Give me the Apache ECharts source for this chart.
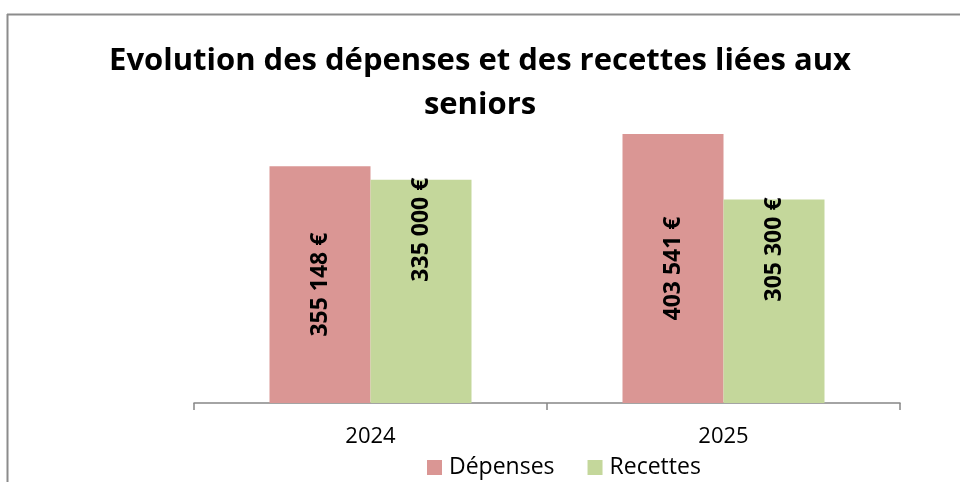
<!DOCTYPE html>
<html>
<head>
<meta charset="utf-8">
<script src="https://cdn.jsdelivr.net/npm/echarts@6/dist/echarts.min.js"></script>
<style>
html,body{margin:0;padding:0;background:#fff;}
#chart{width:960px;height:482px;}
</style>
</head>
<body>
<div id="chart"></div>
<script>
const categories = ['2024', '2025'];
const depenses = [355148, 403541];
const recettes = [335000, 305300];
const seriesNames = ['Dépenses', 'Recettes'];
const titleText = 'Evolution des dépenses et des recettes liées aux\nseniors';

function fmt(v) {
  return String(v).replace(/\B(?=(\d{3})+(?!\d))/g, ' ') + ' €';
}

const chart = echarts.init(document.getElementById('chart'), null, {renderer: 'canvas'});
const FONT = 'Open Sans';
chart.setOption({
  animation: false,
  backgroundColor: '#fff',
  title: {
    text: titleText,
    left: 'center',
    top: 39,
    padding: 0,
    textStyle: {fontFamily: FONT, fontWeight: 'bold', fontSize: 31, lineHeight: 44, color: '#000', align: 'center'}
  },
  graphic: [
    {type: 'line', shape: {x1: 7, y1: 14.5, x2: 960, y2: 14.5}, style: {stroke: '#8c8c8c', lineWidth: 2}},
    {type: 'line', shape: {x1: 7.5, y1: 14, x2: 7.5, y2: 482}, style: {stroke: '#8c8c8c', lineWidth: 2}}
  ],
  legend: {
    left: 427,
    top: 456,
    padding: 0,
    icon: 'rect',
    itemWidth: 15,
    itemHeight: 15,
    itemGap: 33,
    textStyle: {fontFamily: FONT, fontSize: 23, color: '#000', padding: [0, 0, 0, 2]},
    data: seriesNames
  },
  grid: {left: 194, right: 60, top: 103, bottom: 79, containLabel: false},
  xAxis: {
    type: 'category',
    data: categories,
    axisLine: {lineStyle: {color: '#868686', width: 1.5}},
    axisTick: {show: true, length: 7, lineStyle: {color: '#868686', width: 1.5}},
    axisLabel: {fontFamily: FONT, fontSize: 22, color: '#000', margin: 23}
  },
  yAxis: {
    type: 'value',
    min: 0,
    max: 450000,
    show: false,
    splitLine: {show: false}
  },
  series: [
    {
      name: seriesNames[0],
      type: 'bar',
      data: depenses,
      barWidth: 101,
      barGap: '0%',
      itemStyle: {color: '#DA9694'},
      label: {
        show: true,
        position: 'inside',
        rotate: 90,
        align: 'center',
        verticalAlign: 'middle',
        fontFamily: FONT,
        fontWeight: 'bold',
        fontSize: 23,
        color: '#000',
        formatter: p => fmt(p.value)
      }
    },
    {
      name: seriesNames[1],
      type: 'bar',
      data: recettes,
      barWidth: 101,
      barGap: '0%',
      itemStyle: {color: '#C4D79B'},
      label: {
        show: true,
        position: 'insideTop',
        distance: -2,
        rotate: 90,
        align: 'right',
        verticalAlign: 'middle',
        fontFamily: FONT,
        fontWeight: 'bold',
        fontSize: 23,
        color: '#000',
        formatter: p => fmt(p.value)
      }
    }
  ]
});
</script>
</body>
</html>
